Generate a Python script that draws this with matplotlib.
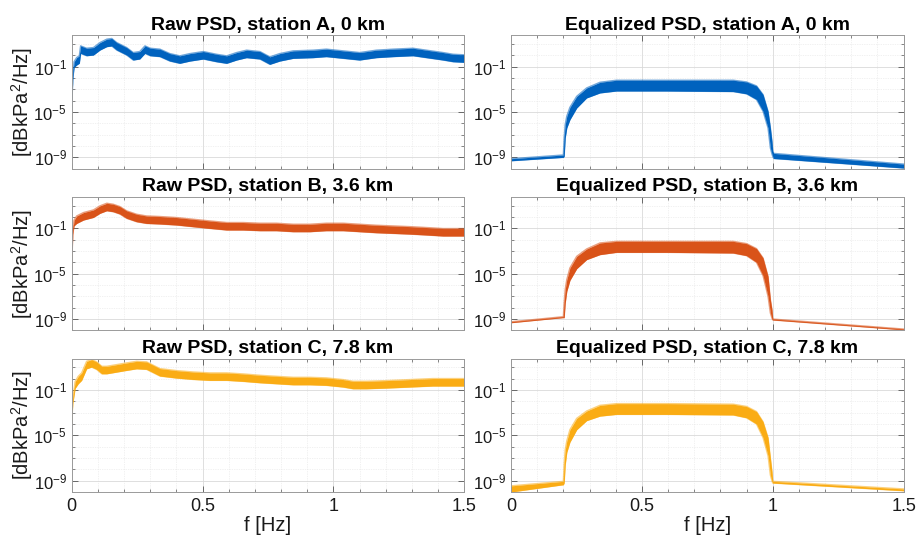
import numpy as np
import matplotlib
matplotlib.use("Agg")
import matplotlib.pyplot as plt
from matplotlib.ticker import FixedLocator, LogFormatterSciNotation, NullFormatter

plt.rcParams["font.family"] = ["Liberation Sans", "DejaVu Sans"]
plt.rcParams["mathtext.fontset"] = "custom"
plt.rcParams["mathtext.rm"] = "Liberation Sans"
plt.rcParams["mathtext.it"] = "Liberation Sans:italic"
plt.rcParams["mathtext.bf"] = "Liberation Sans:bold"

# ---------------- raw PSD levels (log10 of band centre, half band width in decades)
raw_a_f = [0, 0.004, 0.009, 0.019, 0.029, 0.034, 0.057, 0.083, 0.108, 0.134, 0.153,
           0.172, 0.21, 0.235, 0.26, 0.28, 0.30, 0.337, 0.375, 0.413, 0.452, 0.503,
           0.553, 0.592, 0.63, 0.668, 0.719, 0.757, 0.795, 0.846, 0.922, 0.973,
           1.037, 1.10, 1.164, 1.228, 1.304, 1.355, 1.419, 1.457, 1.5]
raw_a_mid = [-4.65, -2.0, -0.82, -0.53, -0.38, 0.5, 0.29, 0.35, 0.79, 1.09, 1.15,
             0.79, 0.35, -0.09, 0.0, 0.5, 0.29, 0.21, -0.18, -0.38, -0.18, 0.0,
             -0.24, -0.38, -0.09, 0.12, 0.0, -0.47, -0.18, 0.06, 0.12, 0.21,
             0.06, -0.09, 0.12, 0.21, 0.29, 0.12, -0.09, -0.24, -0.29]
raw_a_half = [0.1, 0.15, 0.25] + [0.33] * 38

raw_b_f = [0, 0.004, 0.009, 0.019, 0.045, 0.083, 0.108, 0.134, 0.159, 0.184, 0.21,
           0.248, 0.286, 0.337, 0.401, 0.464, 0.528, 0.592, 0.655, 0.719, 0.782,
           0.846, 0.91, 0.973, 1.037, 1.1, 1.164, 1.228, 1.291, 1.355, 1.419, 1.5]
raw_b_mid = [-4.35, -1.4, -0.53, -0.24, 0.06, 0.29, 0.65, 0.88, 0.79, 0.59, 0.21,
             -0.09, -0.24, -0.29, -0.38, -0.53, -0.68, -0.82, -0.82, -0.88, -0.88,
             -0.97, -0.97, -0.88, -0.88, -0.97, -1.06, -1.12, -1.18, -1.26, -1.35, -1.35]
raw_b_half = [0.1, 0.15, 0.25] + [0.33] * 29

raw_c_f = [0, 0.004, 0.013, 0.025, 0.038, 0.057, 0.076, 0.095, 0.115, 0.134, 0.172,
           0.21, 0.248, 0.286, 0.312, 0.337, 0.401, 0.464, 0.528, 0.592, 0.655,
           0.719, 0.782, 0.846, 0.91, 0.973, 1.037, 1.075, 1.126, 1.202, 1.291, 1.38, 1.5]
raw_c_mid = [-3.94, -2.0, -0.56, -0.12, 0.18, 1.2, 1.35, 1.15, 0.76, 0.76, 0.91,
             1.06, 1.2, 1.15, 0.85, 0.56, 0.38, 0.26, 0.18, 0.18, 0.09,
             -0.03, -0.12, -0.21, -0.21, -0.26, -0.41, -0.56, -0.56, -0.5, -0.41, -0.32, -0.32]
raw_c_half = [0.1, 0.2, 0.3] + [0.33] * 30

# ---------------- equalized PSD envelopes (log10 of upper / lower edge)
eq_a_f = [0, 0.2, 0.203, 0.207, 0.213, 0.225, 0.251, 0.289, 0.34, 0.403, 0.594,
          0.849, 0.9, 0.938, 0.963, 0.982, 0.991, 0.997, 1.0, 1.004, 1.5]
eq_a_hi = [-9.12, -8.79, -7.29, -6.12, -5.38, -4.59, -3.62, -2.88, -2.38, -2.2, -2.2,
           -2.2, -2.35, -2.7, -3.47, -4.94, -6.41, -7.6, -8.47, -8.65, -9.59]
eq_a_lo = [-9.3, -9.0, -8.91, -7.29, -6.41, -5.68, -4.65, -3.76, -3.32, -3.15, -3.15,
           -3.2, -3.4, -3.9, -4.94, -6.41, -8.18, -8.7, -8.91, -9.1, -9.94]

eq_b_f = [0, 0.2, 0.203, 0.207, 0.213, 0.225, 0.251, 0.289, 0.34, 0.403, 0.594,
          0.849, 0.9, 0.938, 0.963, 0.982, 0.991, 0.997, 1.0, 1.5]
eq_b_hi = [-9.24, -8.79, -7.59, -6.41, -5.53, -4.5, -3.47, -2.82, -2.29, -2.15, -2.15,
           -2.15, -2.35, -2.79, -3.62, -5.24, -7.29, -8.18, -9.0, -9.88]
eq_b_lo = [-9.32, -8.87, -8.88, -7.59, -6.56, -5.59, -4.56, -3.76, -3.32, -3.12, -3.12,
           -3.18, -3.41, -4.0, -5.18, -7.0, -8.47, -8.91, -9.08, -9.95]

eq_c_f = [0, 0.2, 0.203, 0.207, 0.213, 0.225, 0.251, 0.289, 0.34, 0.403, 0.594,
          0.849, 0.9, 0.938, 0.963, 0.982, 0.991, 0.997, 1.0, 1.5]
eq_c_hi = [-9.45, -9.05, -7.5, -6.3, -5.5, -4.5, -3.5, -2.85, -2.35, -2.2, -2.2,
           -2.25, -2.45, -2.9, -3.8, -5.2, -7.0, -8.2, -9.05, -9.72]
eq_c_lo = [-9.99, -9.35, -9.2, -7.6, -6.5, -5.6, -4.5, -3.7, -3.3, -3.15, -3.15,
           -3.2, -3.45, -4.0, -5.2, -6.8, -8.5, -9.0, -9.2, -9.88]

stations = ["A", "B", "C"]
distances = ["0", "3.6", "7.8"]
colors = ["#0062BE", "#D95319", "#FAAC14"]

x_ticks = [0, 0.5, 1, 1.5]
x_tick_labels = ["0", "0.5", "1", "1.5"]
y_ticks = [1e-9, 1e-5, 1e-1]
y_lim = (1e-10, 10 ** 1.76)

raw_sets = [(raw_a_f, raw_a_mid, raw_a_half),
            (raw_b_f, raw_b_mid, raw_b_half),
            (raw_c_f, raw_c_mid, raw_c_half)]
eq_sets = [(eq_a_f, eq_a_hi, eq_a_lo),
           (eq_b_f, eq_b_hi, eq_b_lo),
           (eq_c_f, eq_c_hi, eq_c_lo)]

W, H = 917, 541
fig = plt.figure(figsize=(W / 100, H / 100), dpi=100)

col_left = [71.7, 511.0]
ax_w = 392.6
ax_h = 133.4
row_top = [35.3, 197.0, 358.7]

grid_major = "#d9d9d9"
grid_minor = "#e4e4e4"
frame = "#9a9a9a"
text_col = "#1a1a1a"


def style_axes(ax, bottom_row, left_col):
    ax.set_yscale("log")
    ax.set_xlim(0, 1.5)
    ax.set_ylim(*y_lim)
    ax.xaxis.set_major_locator(FixedLocator(x_ticks))
    ax.xaxis.set_minor_locator(FixedLocator(np.arange(0.1, 1.5, 0.1)))
    ax.yaxis.set_major_locator(FixedLocator(y_ticks))
    ax.yaxis.set_minor_locator(FixedLocator([10.0 ** k for k in range(-10, 2)
                                             if k not in (-9, -5, -1)]))
    ax.yaxis.set_major_formatter(LogFormatterSciNotation())
    ax.yaxis.set_minor_formatter(NullFormatter())
    if bottom_row:
        ax.set_xticklabels(x_tick_labels)
    else:
        ax.set_xticklabels([])
    ax.tick_params(which="both", direction="in", top=True, right=True,
                   color="#555555", labelcolor=text_col)
    ax.tick_params(axis="x", labelsize=13, pad=4)
    ax.tick_params(axis="y", labelsize=12, pad=3.5)
    ax.tick_params(which="major", length=4, width=0.6)
    ax.tick_params(which="minor", length=2, width=0.5)
    ax.grid(True, which="major", color=grid_major, lw=0.6, ls="-")
    ax.grid(True, which="minor", color=grid_minor, lw=0.5, ls=(0, (1, 1.5)))
    ax.set_axisbelow(True)
    for sp in ax.spines.values():
        sp.set_color(frame)
        sp.set_linewidth(0.7)
    if bottom_row:
        ax.set_xlabel("f [Hz]", fontsize=14.5, color=text_col, labelpad=1)
    if left_col:
        ax.set_ylabel("[dBkPa$^2$/Hz]", fontsize=14.5, color=text_col, labelpad=-1)


def draw_band(ax, f, lo, hi, color):
    ax.fill_between(f, 10 ** lo, 10 ** hi, color=color, lw=0.0)
    # soft fringe along both edges of the noisy trace
    ax.plot(f, 10 ** hi, color=color, lw=1.0, alpha=0.55)
    ax.plot(f, 10 ** lo, color=color, lw=1.0, alpha=0.55)


for r in range(3):
    bottom = (H - row_top[r] - ax_h) / H
    # raw spectra
    ax = fig.add_axes([col_left[0] / W, bottom, ax_w / W, ax_h / H])
    f, mid, half = (np.asarray(v, dtype=float) for v in raw_sets[r])
    draw_band(ax, f, mid - half, mid + half, colors[r])
    style_axes(ax, r == 2, True)
    ax.set_title(f"Raw PSD, station {stations[r]}, {distances[r]} km",
                 fontsize=14, fontweight="bold", pad=4)

    # equalized spectra
    ax = fig.add_axes([col_left[1] / W, bottom, ax_w / W, ax_h / H])
    f, hi, lo = (np.asarray(v, dtype=float) for v in eq_sets[r])
    draw_band(ax, f, lo, hi, colors[r])
    style_axes(ax, r == 2, False)
    ax.set_title(f"Equalized PSD, station {stations[r]}, {distances[r]} km",
                 fontsize=14, fontweight="bold", pad=4)

fig.savefig("out.png", dpi=100)
